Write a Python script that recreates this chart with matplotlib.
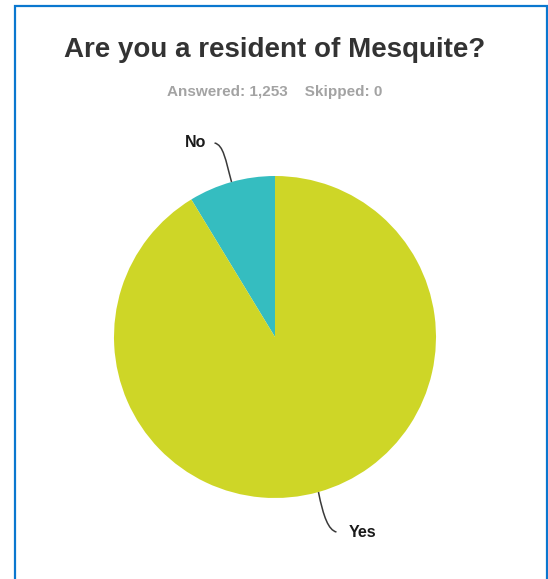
import numpy as np
import matplotlib
matplotlib.use("Agg")
import matplotlib.pyplot as plt
from matplotlib.path import Path
from matplotlib.patches import PathPatch
from matplotlib.lines import Line2D

# Survey answers
categories = ["No", "Yes"]
shares = [8.7, 91.3]
colors = ["#35BDC0", "#CED627"]
title = "Are you a resident of Mesquite?"
subtitle = "Answered: 1,253    Skipped: 0"

W, H = 548, 579
DPI = 100
fig = plt.figure(figsize=(W / DPI, H / DPI), dpi=DPI)
fig.patch.set_facecolor("white")

# Pie axes: centre at (275, 337) px, radius 161 px
cx, cy, R = 275, 337, 161
ax = fig.add_axes([(cx - R) / W, (H - cy - R) / H, 2 * R / W, 2 * R / H])

wedges, _ = ax.pie(shares, colors=colors, startangle=90, counterclock=True,
                   radius=1, wedgeprops=dict(linewidth=0))
ax.set_xlim(-1, 1)
ax.set_ylim(-1, 1)
ax.set_aspect("auto")
ax.axis("off")

px = 1.0 / R  # one pixel in data units

# Leader-line shapes (pixel offsets from the wedge edge point, y up)
leader = {
    "No": dict(c=[(-6, 22), (-8, 37), (-17, 39)], text=(-8, 0), ha="right"),
    "Yes": dict(c=[(5, -25), (10, -38), (18, -40)], text=(12, 0), ha="left"),
}

for w, name in zip(wedges, categories):
    mid = np.deg2rad((w.theta1 + w.theta2) / 2)
    x0, y0 = np.cos(mid), np.sin(mid)
    spec = leader[name]
    verts = [(x0, y0)] + [(x0 + dx * px, y0 + dy * px) for dx, dy in spec["c"]]
    path = Path(verts, [Path.MOVETO, Path.CURVE4, Path.CURVE4, Path.CURVE4])
    ax.add_patch(PathPatch(path, fill=False, edgecolor="#3a3a3a", lw=1.1,
                           clip_on=False))
    ex, ey = verts[-1]
    tx, ty = spec["text"]
    ax.text(ex + tx * px, ey + ty * px, name, ha=spec["ha"], va="center",
            fontsize=11.5, fontweight="bold", color="#1a1a1a",
            family="Liberation Sans", clip_on=False)

fig.text(275 / W, 1 - 50 / H, title, ha="center", va="center", fontsize=20,
         fontweight="bold", color="#333333", family="Liberation Sans")
fig.text(275 / W, 1 - 92 / H, subtitle, ha="center", va="center", fontsize=11,
         fontweight="bold", color="#A3A3A3", family="Liberation Sans")

# Blue frame (open at the bottom)
frame_x = [14.5 / W, 14.5 / W, 546.5 / W, 546.5 / W]
frame_y = [-0.01, 1 - 5.5 / H, 1 - 5.5 / H, -0.01]
fig.add_artist(Line2D(frame_x, frame_y, transform=fig.transFigure,
                      color="#0A77CF", lw=1.6, solid_joinstyle="miter"))

fig.savefig("out.png", dpi=DPI, facecolor="white")
